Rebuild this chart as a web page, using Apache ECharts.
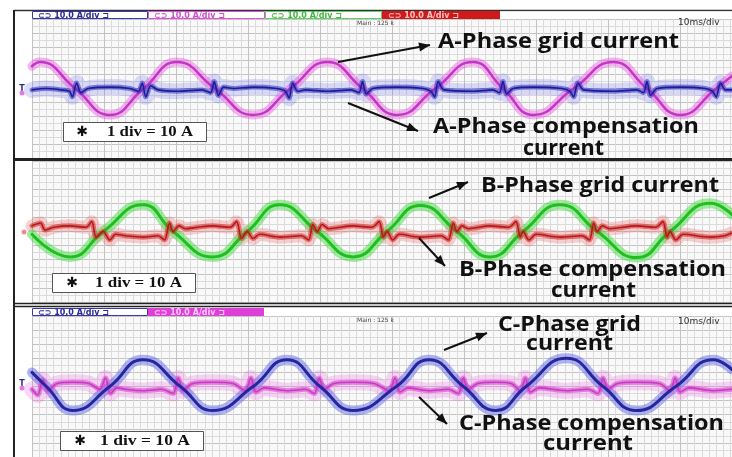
<!DOCTYPE html>
<html><head><meta charset="utf-8">
<script src="https://cdn.jsdelivr.net/npm/echarts/dist/echarts.min.js"></script>
<style>html,body{margin:0;padding:0;background:#fff}#c{width:732px;height:457px}</style>
</head><body><div id="c"></div><script>
// time axis in ms (10 ms/div), current in A
const timeMax = 97.2;
const channelLabel = '⊂⊃ 10.0 A/div ⊐';
const annotationA = ['A-Phase grid current', 'A-Phase compensation', 'current'];
const annotationB = ['B-Phase grid current', 'B-Phase compensation', 'current'];
const annotationC = ['C-Phase grid', 'current', 'C-Phase compensation', 'current'];
const scaleNote = '1 div = 10 A';

// Panel A: grid current (magenta) and compensation current (blue)
const phaseAGrid = [[0,16],[1.1,19],[6.0,0],[10.8,-19],[15.5,0],[20.1,19],[25.4,0],[30.7,-19],[35.9,0],[41.0,19],[45.9,0],[50.7,-19],[56.0,0],[61.2,19],[65.4,0],[69.6,-19],[75.2,0],[80.7,19],[85.4,0],[90.0,-19],[95.0,0],[97.2,9]];
const phaseAComp = [[0,-1],[2,0],[4,-1],[5.2,-2],[5.6,-6],[6.2,4],[6.8,-3],[7.8,0],[10.8,1],[13.6,0],[14.8,-2],[15.3,4],[15.8,-6],[16.5,2],[17.5,-1],[20.1,-2],[23.6,-1],[24.8,-3],[25.3,5],[25.9,-5],[26.6,1],[28,0],[30.7,1],[34,0],[35.2,-2],[35.7,-7],[36.2,4],[36.9,-2],[38,-1],[41,-2],[44.3,-1],[45.4,-3],[45.9,5],[46.4,-4],[47.3,0],[50.7,1],[54.3,0],[55.4,-2],[55.9,-6],[56.4,5],[57.2,-1],[61.2,-2],[64,-1],[64.9,-3],[65.4,5],[65.9,-4],[66.8,0],[69.6,1],[73.6,0],[74.7,-2],[75.2,-6],[75.8,4],[76.6,-1],[80.7,-2],[84,-1],[84.9,-3],[85.4,5],[85.9,-5],[86.8,0],[90,1],[93.5,0],[94.5,-2],[95,-6],[95.6,4],[96.3,-1],[97.2,-1]];

// Panel B: grid current (green) and compensation current (red)
const phaseBGrid = [[0,-2],[5.3,-18],[9.9,0],[15.4,19],[19.6,0],[25.1,-18],[29.9,0],[34.4,19],[39.6,0],[44.6,-18],[49.3,0],[53.9,18.5],[59.0,0],[63.6,-18],[68.2,0],[73.3,19],[78.5,0],[84.0,-18.5],[88.6,0],[94.2,20],[97.2,12]];
const phaseBComp = [[0,4],[1.2,6],[1.8,1],[3,3],[5.3,4],[7.5,3],[8.3,7],[8.9,-4],[9.9,0],[10.8,-6],[11.6,-2],[13,-3],[15.4,-4],[17.5,-3],[18.4,-6],[19.1,6],[19.6,0],[20.4,4],[21.3,2],[23,3],[25.1,4],[27.5,3],[28.4,7],[29.1,-5],[29.9,0],[30.7,-5],[31.6,-2],[34.4,-4],[37.4,-3],[38.4,-6],[39.0,5],[39.6,0],[40.3,5],[41.2,2],[44.6,4],[47.2,3],[48.2,7],[48.8,-4],[49.3,0],[50.1,-6],[51,-2],[53.9,-4],[56.8,-3],[57.8,-6],[58.5,6],[59,0],[59.7,4],[60.6,2],[63.6,4],[66.2,3],[67.2,7],[67.8,-4],[68.2,0],[69,-6],[70,-2],[73.3,-4],[76.4,-3],[77.4,-6],[78,6],[78.5,0],[79.2,4],[80.2,2],[84,4],[86.6,3],[87.6,7],[88.2,-4],[88.6,0],[89.4,-6],[90.4,-2],[94.2,-4],[96.2,-3],[97.2,-1]];

// Panel C: grid current (blue) and compensation current (magenta)
const phaseCGrid = [[0,10],[2.0,0],[5.7,-17],[10.8,0],[15.4,19],[20.6,0],[25.1,-17],[30.7,0],[35.4,19],[40.0,0],[44.6,-17],[50.6,0],[55.1,19],[59.9,0],[64.4,-17],[68.6,0],[74.2,20],[79.3,0],[83.9,-17],[89.4,0],[94.6,19],[97.2,12]];
const phaseCComp = [[0,-2],[0.8,-6],[1.5,5],[2.2,-3],[3.4,2],[5.7,3],[8,2],[9.4,-2],[10.2,6],[10.9,-5],[11.8,-1],[13,-2],[15.4,-3],[18,-2],[19.6,-5],[20.3,6],[21,-3],[22.2,2],[25.1,3],[28,2],[29.6,-3],[30.4,6],[31.1,-4],[32.2,-1],[35.4,-3],[38,-2],[39.2,-5],[39.9,6],[40.6,-2],[41.8,2],[44.6,3],[47.6,2],[49.6,-3],[50.4,6],[51.1,-4],[52.2,-1],[55.1,-3],[57.8,-2],[59.2,-5],[59.9,6],[60.6,-2],[61.8,2],[64.4,3],[66.6,2],[67.8,-3],[68.5,6],[69.2,-4],[70.4,-1],[74.2,-3],[77.2,-2],[78.6,-5],[79.3,6],[80,-2],[81.2,2],[83.9,3],[87.2,2],[88.6,-3],[89.3,6],[90,-4],[91.2,-1],[94.6,-3],[97.2,-2]];

const chart = echarts.init(document.getElementById('c'), null, {renderer:'canvas'});

const grids = [
  {left:32, top:19, width:700, height:139},
  {left:32, top:161, width:700, height:141},
  {left:32, top:316, width:700, height:141}
];
function xAx(i){return {type:'value', gridIndex:i, min:0, max:timeMax, interval:10,
  axisLabel:{show:false}, axisLine:{show:false}, axisTick:{show:false},
  splitLine:{show:true, lineStyle:{color:'#c3c3c3', width:1}},
  minorTick:{show:false, splitNumber:10}, minorSplitLine:{show:true, lineStyle:{color:'#dbdbdb', width:1}}};}
function yAx(i){return {type:'value', gridIndex:i, min:-50, max:50, interval:10,
  axisLabel:{show:false}, axisLine:{show:false}, axisTick:{show:false},
  splitLine:{show:true, lineStyle:{color:'#c3c3c3', width:1}},
  minorTick:{show:false, splitNumber:2}, minorSplitLine:{show:true, lineStyle:{color:'#dbdbdb', width:1}}};}

function trace(data, gi, color, width, smooth, z){
  return {type:'line', xAxisIndex:gi, yAxisIndex:gi, data:data, showSymbol:false, symbol:'none',
    smooth:smooth, silent:true, animation:false, z:z, lineStyle:{color:color, width:width, join:'round', cap:'round'}};
}

const series = [
  trace(phaseAComp, 0, 'rgba(90,100,230,0.22)', 16, 0.3, 2),
  trace(phaseAGrid, 0, 'rgba(232,90,225,0.45)', 9, 0.5, 3),
  trace(phaseAGrid, 0, '#c236c4', 2.5, 0.5, 4),
  trace(phaseAComp, 0, 'rgba(50,50,190,0.55)', 5, 0.3, 5),
  trace(phaseAComp, 0, '#1c1c9a', 1.6, 0.3, 6),

  trace(phaseBComp, 1, 'rgba(230,80,80,0.25)', 13, 0.3, 2),
  trace(phaseBGrid, 1, 'rgba(70,220,70,0.5)', 10, 0.5, 3),
  trace(phaseBGrid, 1, '#1fbf1f', 3, 0.5, 4),
  trace(phaseBComp, 1, 'rgba(210,40,40,0.55)', 5, 0.3, 5),
  trace(phaseBComp, 1, '#b81818', 1.6, 0.3, 6),

  trace(phaseCComp, 2, 'rgba(235,110,225,0.28)', 16, 0.3, 2),
  trace(phaseCGrid, 2, 'rgba(80,90,225,0.45)', 10, 0.5, 3),
  trace(phaseCComp, 2, 'rgba(220,70,210,0.6)', 5, 0.3, 4),
  trace(phaseCComp, 2, '#c63cc0', 1.6, 0.3, 5),
  trace(phaseCGrid, 2, '#25259e', 3, 0.5, 6)
];

const G = [];
const measureCtx = document.createElement('canvas').getContext('2d');
function line(x1,y1,x2,y2,c,w){G.push({type:'line', z:100, silent:true, shape:{x1,y1,x2,y2}, style:{stroke:c, lineWidth:w}});}
function rect(x,y,w,h,fill,stroke,lw){G.push({type:'rect', z:100, silent:true, shape:{x,y,width:w,height:h}, style:{fill:fill, stroke:stroke||null, lineWidth:lw||1}});}
function text(t,x,y,font,fill,align){G.push({type:'text', z:101, silent:true, style:{text:t, x, y, font, fill, align:align||'left', textAlign:align||'left', verticalAlign:'middle', textVerticalAlign:'middle'}});}
// text stretched horizontally to span [x1, x2]
function fitText(t,x1,x2,y,font,fill){
  measureCtx.font = font;
  const w = measureCtx.measureText(t).width || 1;
  G.push({type:'text', z:101, silent:true, x:x1, y:y, scaleX:(x2-x1)/w, scaleY:1,
    style:{text:t, x:0, y:0, font, fill, align:'left', textAlign:'left', verticalAlign:'middle', textVerticalAlign:'middle'}});
}
function arrow(x1,y1,x2,y2){
  line(x1,y1,x2,y2,'#111',2);
  const a = Math.atan2(y2-y1,x2-x1), L=11, W=4.5;
  const bx = x2 - L*Math.cos(a), by = y2 - L*Math.sin(a);
  G.push({type:'polygon', z:101, silent:true, shape:{points:[[x2,y2],[bx+W*Math.sin(a),by-W*Math.cos(a)],[bx-W*Math.sin(a),by+W*Math.cos(a)]]}, style:{fill:'#111'}});
}

// frame lines
line(14,10.5,732,10.5,'#333',1.5);
line(14,10,14,457,'#222',2);
line(14,159.5,732,159.5,'#222',3);
line(14,303.5,732,303.5,'#222',1.6);
line(14,306.5,732,306.5,'#222',1.6);

// headers panel A
rect(32,11.5,700,7,'#ffffff',null);
rect(32.5,11.5,115,7,'#ffffff','#3a3ab0',1);
text(channelLabel,38,15.5,'bold 8px "DejaVu Sans"','#2a2a96');
rect(148.5,11.5,116,7,'#ffffff','#e050dc',1);
text(channelLabel,154,15.5,'bold 8px "DejaVu Sans"','#d24bd0');
rect(265.5,11.5,116,7,'#ffffff','#60d060',1);
text(channelLabel,271,15.5,'bold 8px "DejaVu Sans"','#3cb83c');
rect(382,11,118,8,'#d01a1a',null);
text(channelLabel,388,15.5,'bold 8px "DejaVu Sans"','#ffc0c0');
text('Main : 125 k',357,23,'6px "DejaVu Sans"','#444');
text('10ms/div',678,23,'9px "DejaVu Sans"','#333');

// headers panel C
rect(32,308,700,8,'#ffffff',null);
rect(32.5,308.5,115,7,'#ffffff','#3a3ab0',1);
text(channelLabel,38,312.5,'bold 8px "DejaVu Sans"','#2a2a96');
rect(148,308,116,8,'#dd3fd8',null);
text(channelLabel,154,312.5,'bold 8px "DejaVu Sans"','#ffd0ff');
text('Main : 125 k',357,320,'6px "DejaVu Sans"','#444');
text('10ms/div',678,322,'9px "DejaVu Sans"','#333');

// ground markers
text('T',22,89,'bold 8px "DejaVu Sans"','#2a2a96','center');
G.push({type:'circle', z:101, silent:true, shape:{cx:22,cy:93,r:2.5}, style:{fill:'#e27be0'}});
G.push({type:'circle', z:101, silent:true, shape:{cx:24,cy:232,r:2.5}, style:{fill:'#e89090'}});
text('T',22,384,'bold 8px "DejaVu Sans"','#2a2a96','center');
G.push({type:'circle', z:101, silent:true, shape:{cx:22,cy:388,r:2.5}, style:{fill:'#e27be0'}});

// scale note boxes
function note(x,y,tx1,tx2,sx){
  rect(x+0.5,y+0.5,143,19,'#ffffff','#555',1);
  text('✱',sx,y+10,'bold 14px "DejaVu Sans"','#111','center');
  fitText(scaleNote,tx1,tx2,y+10.5,'bold 15px "Liberation Serif"','#111');
}
note(63,122,107,193,82); note(52,273,95,182,72); note(60,431,100,190,80);

// annotations
const F = 'bold 21px "Open Sans"';
fitText(annotationA[0],438,679,42,F,'#111');
fitText(annotationA[1],433,699,127,F,'#111');
fitText(annotationA[2],523,604,149,F,'#111');
arrow(338,62,430,45);
arrow(348,103,418,131);

fitText(annotationB[0],481,719,186,F,'#111');
fitText(annotationB[1],459,726,270,F,'#111');
fitText(annotationB[2],551,636,291,F,'#111');
arrow(429,198,468,182);
arrow(419,238,445,266);

fitText(annotationC[0],498,641,325,F,'#111');
fitText(annotationC[1],526,613,344,F,'#111');
fitText(annotationC[2],459,724,424,F,'#111');
fitText(annotationC[3],543,633,444,F,'#111');
arrow(444,350,487,333);
arrow(419,397,447,424);

chart.setOption({
  animation:false,
  backgroundColor:'#ffffff',
  grid: grids.map(g=>Object.assign({show:true, backgroundColor:'#f9f9f9', borderWidth:0}, g)),
  xAxis:[xAx(0),xAx(1),xAx(2)],
  yAxis:[yAx(0),yAx(1),yAx(2)],
  series: series,
  graphic: G
});
</script></body></html>
